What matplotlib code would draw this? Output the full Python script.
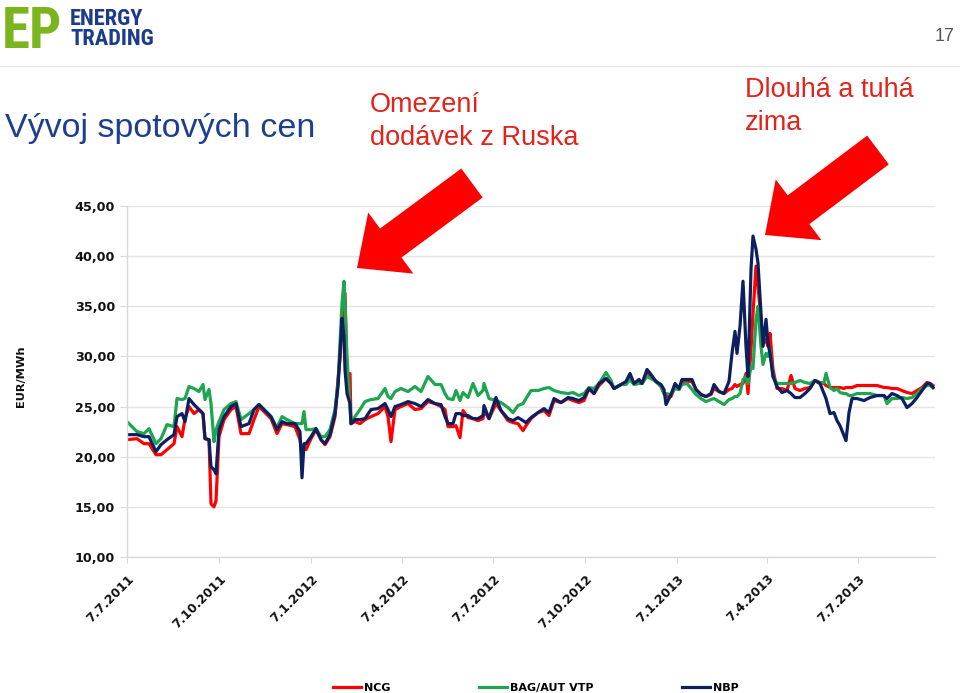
import matplotlib
matplotlib.use("Agg")
import matplotlib.pyplot as plt
import matplotlib.patches as mpatches
import matplotlib.lines as mlines
from matplotlib import font_manager
import numpy as np
import pandas as pd

# ---------------- data ----------------
start_date = "2011-07-07"
days = [0, 10, 17, 22, 29, 34, 40, 47, 50, 55, 58, 62, 67, 72, 76, 78, 82, 84, 87, 89, 92, 97, 104, 109, 114, 122, 127, 132, 137, 144, 150, 155, 160,
        168, 173, 175, 177, 179, 184, 189, 194, 198, 203, 208, 211, 213, 215, 217, 218, 220, 223, 224, 228, 233, 238, 244, 251, 258, 261, 264, 268, 274, 281, 288, 294, 301, 308, 314, 318, 321, 326,
        329, 333, 336, 341, 346, 351, 356, 357, 362, 369, 374, 381, 386, 391, 396, 399, 404, 411, 417, 422, 427, 434, 441, 446, 452, 457, 462, 467, 472, 479, 484, 487,
        494, 499, 503, 507, 512, 515, 520, 524, 529, 534, 537, 539, 544, 548, 552, 555, 560, 565, 569, 574, 579, 584, 587, 592, 597, 602, 605, 608, 610, 613, 616, 619, 621, 624, 626, 629, 631, 634, 636, 639, 641, 643, 646, 650,
        655, 660, 664, 668, 673, 678, 683, 688, 693, 697, 699, 703, 707, 710, 713, 717, 719, 722, 725, 730, 737, 743, 750, 757, 760, 765, 770, 775, 780, 785, 790, 795, 800, 803, 806]

ncg = [21.7, 21.8, 21.3, 21.3, 20.2, 20.2, 20.7, 21.3, 23.0, 22.0, 23.8, 25.0, 24.3, 24.7, 24.3, 21.8, 21.7, 15.3, 15.0, 15.6, 22.0, 23.7, 24.7, 25.0, 22.3, 22.3, 23.7, 25.0, 24.5, 23.8, 22.3, 23.3, 23.2,
       23.0, 21.7, 20.2, 21.0, 20.7, 21.8, 22.7, 21.7, 21.2, 22.0, 24.0, 27.7, 29.7, 33.0, 36.3, 36.3, 27.7, 28.3, 23.3, 23.5, 23.3, 23.7, 24.0, 24.3, 25.0, 24.0, 21.5, 24.7, 25.0, 25.3, 24.7, 24.8, 25.5, 25.3, 25.0, 24.7, 23.0, 23.0,
       23.1, 21.9, 24.6, 23.9, 23.8, 23.6, 23.8, 24.6, 23.8, 25.3, 24.6, 23.6, 23.4, 23.3, 22.6, 23.1, 23.8, 24.4, 24.6, 24.1, 25.6, 25.4, 25.8, 25.6, 25.4, 25.6, 26.8, 26.3, 27.1, 27.8, 27.3, 26.8,
       27.2, 27.3, 28.0, 27.3, 27.5, 27.3, 28.3, 28.0, 27.5, 27.0, 26.3, 26.0, 26.0, 27.0, 26.7, 27.5, 27.5, 27.5, 26.7, 26.2, 26.0, 26.2, 26.8, 26.5, 26.3, 26.7, 26.8, 27.2, 27.0, 27.2, 27.3, 28.3, 26.3, 30.7, 34.3, 39.0, 37.0, 33.7, 31.2, 31.7, 31.0, 32.3, 28.7, 26.8,
       26.8, 26.6, 28.1, 26.8, 26.6, 26.8, 26.9, 27.6, 27.4, 27.3, 27.1, 26.9, 26.9, 26.9, 26.9, 26.8, 26.9, 26.9, 26.9, 27.1, 27.1, 27.1, 27.1, 26.9, 26.9, 26.8, 26.8, 26.6, 26.4, 26.3, 26.6, 26.9, 27.4, 27.3, 27.1]

vtp = [23.5, 22.5, 22.3, 22.8, 21.3, 21.8, 23.2, 23.0, 25.8, 25.7, 25.8, 27.0, 26.8, 26.5, 27.2, 25.7, 26.7, 25.3, 21.5, 22.7, 23.5, 24.7, 25.3, 25.5, 23.7, 24.3, 24.7, 25.2, 24.7, 24.0, 22.9, 24.0, 23.7,
       23.3, 23.3, 23.3, 24.5, 22.7, 22.7, 22.8, 22.0, 22.0, 22.7, 24.7, 27.3, 31.3, 35.3, 37.5, 35.3, 30.0, 25.0, 23.3, 24.0, 24.7, 25.5, 25.7, 25.8, 26.8, 26.0, 25.8, 26.5, 26.8, 26.5, 27.0, 26.5, 28.0, 27.2, 27.2, 26.3, 25.8, 25.7,
       26.6, 25.6, 26.4, 25.9, 27.3, 26.1, 26.6, 27.3, 25.8, 25.6, 25.4, 24.9, 24.4, 25.1, 25.3, 25.8, 26.6, 26.6, 26.8, 26.9, 26.6, 26.4, 26.3, 26.4, 26.1, 26.3, 26.9, 26.8, 27.3, 28.4, 27.6, 26.8,
       27.2, 27.2, 27.7, 27.2, 27.3, 27.3, 28.0, 27.8, 27.5, 27.0, 26.3, 26.3, 26.2, 26.8, 26.7, 27.2, 27.3, 26.7, 26.2, 25.8, 25.5, 25.7, 25.8, 25.5, 25.2, 25.7, 25.8, 26.0, 26.0, 26.3, 27.7, 28.0, 27.3, 29.0, 28.8, 33.7, 35.0, 31.0, 29.2, 30.3, 30.0, 30.7, 28.0, 27.3,
       27.3, 27.3, 27.3, 27.4, 27.6, 27.4, 27.3, 27.6, 27.3, 27.4, 28.3, 26.9, 26.6, 26.8, 26.4, 26.3, 26.3, 26.1, 26.1, 26.3, 26.3, 26.3, 26.1, 26.1, 25.3, 25.8, 25.8, 25.9, 25.8, 25.9, 26.3, 26.8, 27.1, 27.1, 26.9]

nbp = [22.2, 22.2, 22.0, 22.0, 20.5, 21.2, 21.7, 22.2, 24.0, 24.3, 23.5, 25.8, 25.2, 24.7, 24.3, 21.8, 21.7, 19.0, 18.7, 18.3, 22.7, 24.0, 25.0, 25.3, 23.0, 23.3, 24.7, 25.2, 24.7, 24.0, 22.7, 23.5, 23.3,
       23.3, 22.5, 17.9, 21.3, 21.3, 22.0, 22.8, 21.7, 21.3, 22.2, 24.3, 27.0, 30.3, 33.8, 32.0, 28.7, 26.3, 25.3, 23.3, 23.7, 23.7, 23.8, 24.7, 24.8, 25.3, 24.7, 24.0, 25.0, 25.2, 25.5, 25.3, 25.0, 25.7, 25.3, 25.2, 24.0, 23.3, 23.3,
       24.3, 24.3, 24.1, 24.1, 23.8, 23.8, 24.1, 25.1, 23.8, 25.9, 24.6, 23.8, 23.6, 23.9, 23.6, 23.4, 23.9, 24.4, 24.8, 24.4, 25.8, 25.4, 25.9, 25.8, 25.6, 25.9, 26.8, 26.3, 27.3, 27.8, 27.3, 26.8,
       27.2, 27.5, 28.3, 27.3, 27.7, 27.3, 28.7, 28.2, 27.5, 27.2, 26.7, 25.2, 26.2, 27.3, 26.8, 27.7, 27.7, 27.7, 26.7, 26.2, 26.0, 26.3, 27.2, 26.5, 26.3, 27.5, 30.3, 32.5, 30.3, 33.0, 37.5, 31.0, 28.0, 38.7, 42.0, 40.7, 39.3, 34.3, 31.0, 33.7, 31.3, 30.3, 28.0, 27.0,
       26.4, 26.6, 26.3, 25.9, 25.9, 26.3, 26.8, 27.6, 27.3, 26.3, 25.8, 24.3, 24.4, 23.6, 23.1, 22.1, 21.6, 24.4, 25.8, 25.8, 25.6, 25.9, 26.1, 26.1, 25.8, 26.3, 26.1, 25.8, 24.9, 25.3, 25.9, 26.6, 27.3, 27.3, 26.9]

series_names = ["NCG", "BAG/AUT VTP", "NBP"]
series_colors = ["#ff0000", "#1ea54f", "#0c1f5e"]

x_tick_dates = ["2011-07-07", "2011-10-07", "2012-01-07", "2012-04-07", "2012-07-07",
                "2012-10-07", "2013-01-07", "2013-04-07", "2013-07-07"]
x_tick_labels = ["7.7.2011", "7.10.2011", "7.1.2012", "7.4.2012", "7.7.2012",
                 "7.10.2012", "7.1.2013", "7.4.2013", "7.7.2013"]
y_ticks = [10, 15, 20, 25, 30, 35, 40, 45]
y_tick_labels = ["10,00", "15,00", "20,00", "25,00", "30,00", "35,00", "40,00", "45,00"]

title_text = "Vývoj spotových cen"
note1_lines = ["Omezení", "dodávek z Ruska"]
note2_lines = ["Dlouhá a tuhá", "zima"]
logo_words = ["ENERGY", "TRADING"]
page_number = "17"

# ---------------- figure ----------------
W, H = 960, 693
fig = plt.figure(figsize=(W / 100, H / 100), dpi=100)


def fx(px):
    return px / W


def fy(py):
    return 1 - py / H


start = pd.Timestamp(start_date)
dates = start + pd.to_timedelta(days, unit="D")

ax = fig.add_axes([fx(127), fy(557), (935 - 127) / W, (557 - 206) / H])
for vals, name, col in zip([ncg, vtp, nbp], series_names, series_colors):
    ax.plot(dates, vals, color=col, lw=2.3, solid_joinstyle="round", label=name)

ax.set_ylim(10, 45)
ax.set_xlim(start, start + pd.Timedelta(days=808))
ax.set_yticks(y_ticks)
ax.set_yticklabels(y_tick_labels)
ax.set_xticks(pd.to_datetime(x_tick_dates))
ax.set_xticklabels(x_tick_labels, rotation=45, ha="right", va="top", rotation_mode="anchor")
ax.grid(axis="y", color="#e4e4e4", lw=1.0)
ax.set_axisbelow(True)
for s in ["top", "right"]:
    ax.spines[s].set_visible(False)
for s in ["left", "bottom"]:
    ax.spines[s].set_color("#d9d9d9")
    ax.spines[s].set_linewidth(1.0)
ax.tick_params(axis="y", length=5, color="#d9d9d9", pad=3.5)
ax.tick_params(axis="x", length=4, color="#d9d9d9", pad=7)
for lab in ax.get_yticklabels() + ax.get_xticklabels():
    lab.set_fontfamily("DejaVu Sans")
    lab.set_fontweight("bold")
    lab.set_fontsize(9.2)
    lab.set_color("#111111")
for lab in ax.get_xticklabels():
    lab.set_fontsize(8.8)

fig.text(fx(21), fy(376), "EUR/MWh", rotation=90, ha="center", va="center",
         fontsize=8.2, fontweight="bold", family="DejaVu Sans", color="#111111")

# legend
handles = [mlines.Line2D([], [], color=c, lw=2.3) for c in series_colors]
leg = fig.legend(handles, series_names, loc="center", bbox_to_anchor=(fx(536), fy(688)),
                 ncol=3, frameon=False, handlelength=2.5, handletextpad=0.35,
                 columnspacing=7.9, borderpad=0, prop={"family": "DejaVu Sans", "weight": "bold", "size": 8})

# ---------------- header ----------------
fig.add_artist(mlines.Line2D([0, 1], [fy(66), fy(66)], transform=fig.transFigure, color="#e3e3e3", lw=0.8))
fig.text(fx(955), fy(41), page_number, ha="right", va="baseline", fontsize=13,
         family="Liberation Sans", color="#555555")

# logo (use a condensed face if one is installed)
installed = {f.name for f in font_manager.fontManager.ttflist}
condensed = None
for cand in ["Roboto Condensed", "Liberation Sans Narrow", "DejaVu Sans Condensed", "Open Sans Condensed"]:
    if cand in installed:
        condensed = cand
        break
if condensed is not None:
    logo_family, ep_size, word_size = condensed, 41, 16.2
else:
    logo_family, ep_size, word_size = "Liberation Sans", 33, 12.5

fig.text(fx(2), fy(48), "EP", ha="left", va="baseline", fontsize=ep_size, fontweight="heavy",
         family=logo_family, color="#7ab51d")
fig.text(fx(70), fy(8), "\n".join(logo_words), ha="left", va="top", fontsize=word_size,
         fontweight="bold", linespacing=0.88, family=logo_family, color="#1b3c8c")

# title and notes
fig.text(fx(5), fy(137), title_text, ha="left", va="baseline", fontsize=24.5,
         family="Liberation Sans", color="#1d3f8f")
fig.text(fx(370), fy(112), note1_lines[0], ha="left", va="baseline", fontsize=19.5,
         family="Liberation Sans", color="#e2231a")
fig.text(fx(370), fy(145), note1_lines[1], ha="left", va="baseline", fontsize=19.5,
         family="Liberation Sans", color="#e2231a")
fig.text(fx(745), fy(97), note2_lines[0], ha="left", va="baseline", fontsize=19.5,
         family="Liberation Sans", color="#e2231a")
fig.text(fx(745), fy(130), note2_lines[1], ha="left", va="baseline", fontsize=19.5,
         family="Liberation Sans", color="#e2231a")


# arrows (in inch coordinates, from pixel positions)
def big_arrow(tail_px, tip_px):
    x0, y0 = tail_px[0] / 100, (H - tail_px[1]) / 100
    x1, y1 = tip_px[0] / 100, (H - tip_px[1]) / 100
    arr = mpatches.FancyArrow(x0, y0, x1 - x0, y1 - y0, width=0.36, head_width=0.76,
                              head_length=0.42, length_includes_head=True,
                              transform=fig.dpi_scale_trans, color="#ff0000", lw=0)
    fig.add_artist(arr)


big_arrow((472, 183), (357, 268))
big_arrow((878, 150), (765, 235))

fig.savefig("out.png", dpi=100)
